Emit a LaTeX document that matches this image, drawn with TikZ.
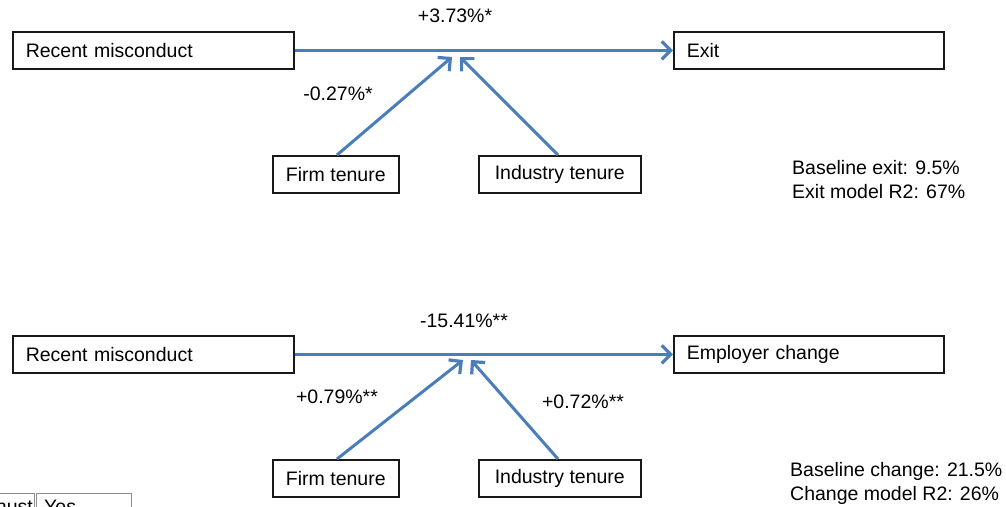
\documentclass[tikz,border=0pt]{standalone}
\usepackage{fontspec}
\setmainfont{Liberation Sans}
\usetikzlibrary{arrows.meta}
\definecolor{arrowblue}{HTML}{4A7EBB}
\begin{document}
\begin{tikzpicture}[x=1pt,y=-1pt,
  every node/.style={font=\fontsize{19.5}{24}\selectfont, text=black},
  box/.style={draw=black!90, line width=1.6pt, minimum height=37pt, anchor=north west, inner ysep=0pt},
  leftbox/.style={box, align=left, inner xsep=13pt},
  centerbox/.style={box, align=center, inner xsep=0pt},
  conn/.style={draw=arrowblue, line width=3pt, -{Straight Barb[length=9pt,width=18pt,line width=3.2pt]}},
  lbl/.style={inner sep=0pt},
  stat/.style={inner sep=0pt, anchor=west, align=left}
]
\useasboundingbox (0,0) rectangle (1006,506);
\clip (0,0) rectangle (1006,506);

% ---------- top diagram ----------
\node[leftbox, text width=255pt] (rm1) at (12,31) {Recent misconduct};
\node[leftbox, text width=244pt] (ex1) at (673,31) {Exit};
\node[centerbox, minimum width=126pt] (ft1) at (272,155) {Firm tenure};
\node[centerbox, minimum width=162pt] (it1) at (478,155) {Industry tenure};
\coordinate (m1a) at (452,57);
\coordinate (m1b) at (460,57);
\draw[conn] (rm1.east) -- (ex1.west);
\draw[conn] (ft1.north -| 337,0) -- (m1a);
\draw[conn] (it1.north -| 558,0) -- (m1b);
\node[lbl] (l1) at (455,16) {+3.73\%*};
\node[lbl] (l2) at (338,94) {-0.27\%*};
\node[stat] (s1) at (792,180) {Baseline exit: 9.5\%\\Exit model R2: 67\%};

% ---------- bottom diagram ----------
\node[leftbox, text width=255pt] (rm2) at (12,335) {Recent misconduct};
\node[leftbox, text width=244pt] (ex2) at (673,335) {Employer change};
\node[centerbox, minimum width=126pt] (ft2) at (272,459) {Firm tenure};
\node[centerbox, minimum width=162pt] (it2) at (478,459) {Industry tenure};
\coordinate (m2a) at (463,360);
\coordinate (m2b) at (471,360);
\draw[conn] (rm2.east) -- (ex2.west);
\draw[conn] (ft2.north -| 337,0) -- (m2a);
\draw[conn] (it2.north -| 558,0) -- (m2b);
\node[lbl] (l3) at (464,321) {-15.41\%**};
\node[lbl] (l4) at (337,397) {+0.79\%**};
\node[lbl] (l5) at (583,402) {+0.72\%**};
\node[stat] (s2) at (790,483) {Baseline change: 21.5\%\\Change model R2: 26\%};

% ---------- clipped table fragment at bottom left ----------
\draw[black!45, line width=0.8pt] (-2,493) rectangle (34,540);
\draw[black!45, line width=0.8pt] (36,493) rectangle (131,540);
\node[inner sep=0pt, anchor=base east] (frag1) at (33,513) {hust};
\node[inner sep=0pt, anchor=base west] (frag2) at (44,513) {Yes};
\end{tikzpicture}
\end{document}
